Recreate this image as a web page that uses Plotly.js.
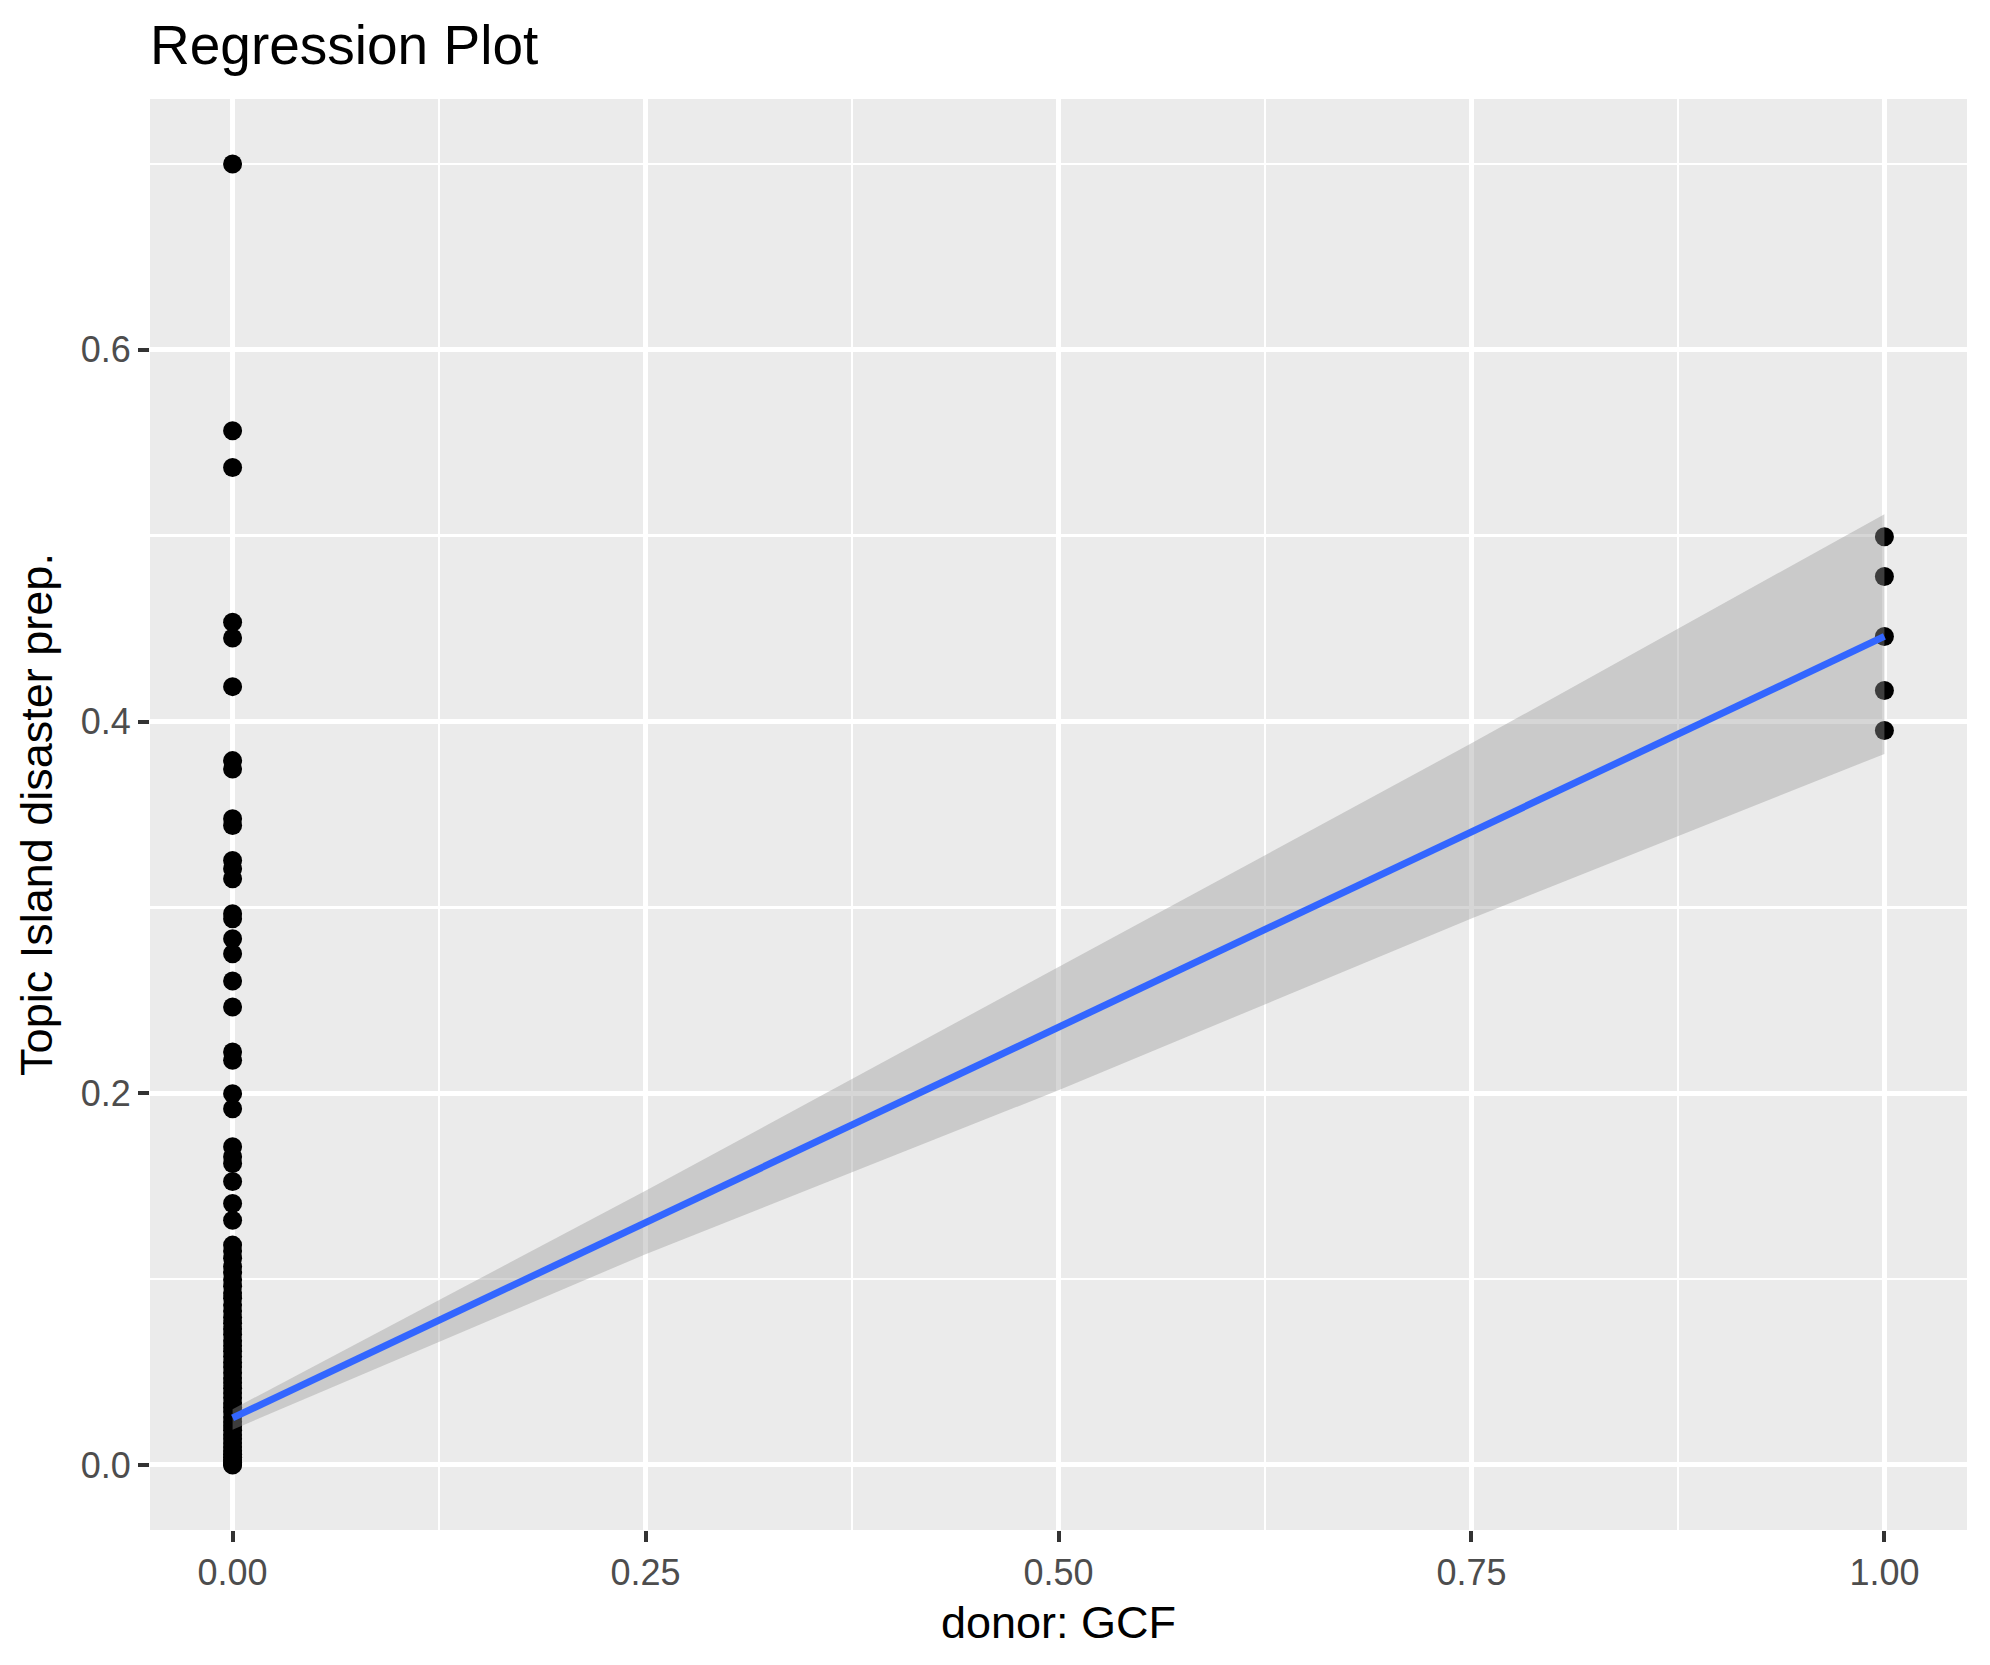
<!DOCTYPE html>
<html>
<head>
<meta charset="utf-8">
<script src="https://cdn.plot.ly/plotly-3.0.1.min.js"></script>
<style>
html, body { margin: 0; padding: 0; background: #ffffff; }
#chart { width: 1990px; height: 1665px; }
</style>
</head>
<body>
<div id="chart"></div>
<script>
// ---- data ----
const gcf0X = 0;
const gcf0Values = [0.700, 0.5565, 0.5367, 0.4534, 0.4450, 0.4188, 0.3790, 0.3745, 0.3477, 0.3441,
  0.3253, 0.3208, 0.3154, 0.2966, 0.2939, 0.2831, 0.2751, 0.2604, 0.2464, 0.2222, 0.2177,
  0.1998, 0.1917, 0.1712, 0.1659, 0.1622, 0.1525, 0.1407, 0.1317, 0.1183, 0.1151, 0.1112,
  0.1068, 0.1034, 0.0997, 0.0962, 0.0925, 0.0897, 0.0861, 0.0829, 0.0794, 0.0763, 0.0731,
  0.0702, 0.0668, 0.0641, 0.0612, 0.0583, 0.0551, 0.0527, 0.0496, 0.0468, 0.0442, 0.0413,
  0.0387, 0.0361, 0.0334, 0.0309, 0.0286, 0.0258, 0.0233, 0.0211, 0.0187, 0.0162, 0.0141,
  0.0118, 0.0097, 0.0076, 0.0058, 0.0041, 0.0026, 0.0013, 0.0005, 0.0];
const gcf1X = 1;
const gcf1Values = [0.4995, 0.4781, 0.4458, 0.4167, 0.3952];

const fitX = [0, 1];
const fitY = [0.0253, 0.4458];
const bandX = [0, 0.25, 0.5, 0.75, 1];
const bandUpper = [0.0300, 0.1475, 0.2679, 0.3883, 0.5116];
const bandLower = [0.0190, 0.1134, 0.2016, 0.2941, 0.3826];

const xTickVals = [0, 0.25, 0.5, 0.75, 1];
const xTickText = ["0.00", "0.25", "0.50", "0.75", "1.00"];
const yTickVals = [0, 0.2, 0.4, 0.6];
const yTickText = ["0.0", "0.2", "0.4", "0.6"];

const titleText = "Regression Plot";
const xTitle = "donor: GCF";
const yTitle = "Topic Island disaster prep.";

// ---- build traces ----
const allX = gcf0Values.map(() => gcf0X).concat(gcf1Values.map(() => gcf1X));
const allY = gcf0Values.concat(gcf1Values);

const FONT = "Liberation Sans, Arial, Helvetica, sans-serif";

const traces = [
  {
    type: "scatter", mode: "markers", x: allX, y: allY,
    marker: { color: "#000000", size: 19, line: { width: 0 } },
    hoverinfo: "x+y", showlegend: false
  },
  {
    type: "scatter", mode: "lines", x: bandX, y: bandLower,
    line: { width: 0, color: "rgba(0,0,0,0)" }, showlegend: false, hoverinfo: "skip"
  },
  {
    type: "scatter", mode: "lines", x: bandX, y: bandUpper,
    fill: "tonexty", fillcolor: "rgba(153,153,153,0.4)",
    line: { width: 0, color: "rgba(0,0,0,0)" }, showlegend: false, hoverinfo: "skip"
  },
  {
    type: "scatter", mode: "lines", x: fitX, y: fitY,
    line: { color: "#3366FF", width: 7 }, showlegend: false
  }
];

const layout = {
  width: 1990, height: 1665,
  paper_bgcolor: "#ffffff", plot_bgcolor: "#EBEBEB",
  margin: { l: 150, r: 23, t: 99, b: 135, pad: 0 },
  font: { family: FONT, color: "#000000" },
  title: {
    text: titleText, font: { family: FONT, size: 55, color: "#000000" },
    xref: "paper", x: 0, xanchor: "left",
    yref: "container", y: 1 - 45 / 1665, yanchor: "middle"
  },
  xaxis: {
    range: [-0.05, 1.05], zeroline: false, showline: false,
    tickmode: "array", tickvals: xTickVals, ticktext: xTickText,
    ticks: "outside", ticklen: 11, tickwidth: 4, tickcolor: "#333333",
    tickfont: { family: FONT, size: 36, color: "#4D4D4D" },
    showgrid: true, gridcolor: "#ffffff", gridwidth: 5,
    minor: { tickmode: "array", tickvals: [0.125, 0.375, 0.625, 0.875], showgrid: true, gridcolor: "#ffffff", gridwidth: 2.5, ticks: "" },
    title: { text: xTitle, font: { family: FONT, size: 45, color: "#000000" }, standoff: 14 },
    fixedrange: true
  },
  yaxis: {
    range: [-0.035, 0.735], zeroline: false, showline: false,
    tickmode: "array", tickvals: yTickVals, ticktext: yTickText,
    ticks: "outside", ticklen: 11, tickwidth: 4, tickcolor: "#333333",
    tickfont: { family: FONT, size: 36, color: "#4D4D4D" },
    showgrid: true, gridcolor: "#ffffff", gridwidth: 5,
    minor: { tickmode: "array", tickvals: [0.1, 0.3, 0.5, 0.7], showgrid: true, gridcolor: "#ffffff", gridwidth: 2.5, ticks: "" },
    title: { text: yTitle, font: { family: FONT, size: 45, color: "#000000" }, standoff: 14 },
    fixedrange: true
  },
  showlegend: false
};

Plotly.newPlot("chart", traces, layout, { displayModeBar: false, staticPlot: true });
</script>
</body>
</html>
